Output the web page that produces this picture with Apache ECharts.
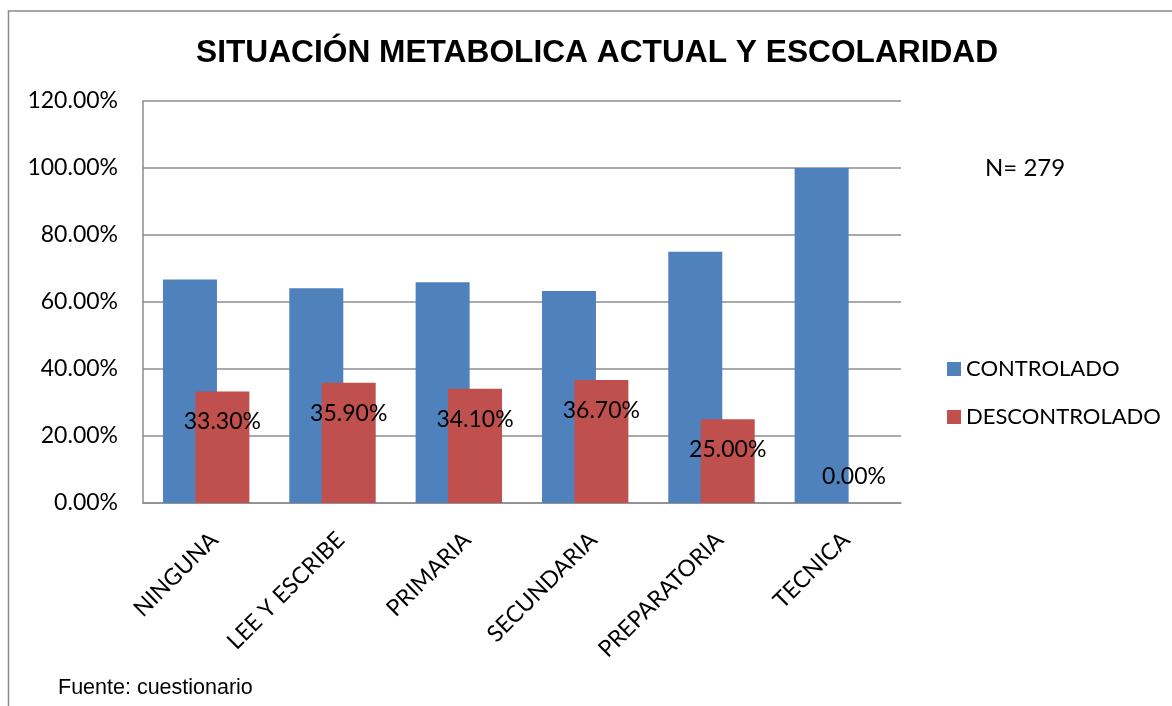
<!DOCTYPE html>
<html><head><meta charset="utf-8">
<script src="https://cdn.jsdelivr.net/npm/echarts@6/dist/echarts.min.js"></script>
<style>html,body{margin:0;padding:0;background:#fff}#c{width:1172px;height:706px}</style>
</head><body><div id="c"></div>
<script>
const categories = ['NINGUNA','LEE Y ESCRIBE','PRIMARIA','SECUNDARIA','PREPARATORIA','TECNICA'];
const controlado = [66.7, 64.1, 65.9, 63.3, 75.0, 100.0];
const descontrolado = [33.3, 35.9, 34.1, 36.7, 25.0, 0.0];
const yTicks = {min: 0, max: 120, interval: 20};
const seriesNames = ['CONTROLADO', 'DESCONTROLADO'];
const titleText = 'SITUACIÓN METABOLICA ACTUAL Y ESCOLARIDAD';
const noteText = 'N= 279';
const sourceText = 'Fuente: cuestionario';

const F = 'Lato';
const chart = echarts.init(document.getElementById('c'));
const redData = descontrolado.map(v => ({
  value: v,
  label: {offset: v === 0 ? [0, -43] : [0, 14]}
}));
chart.setOption({
  animation: false,
  title: {text: titleText, left: 191, top: 32,
    textStyle: {fontFamily: 'Liberation Sans', fontWeight: 'bold', fontSize: 31.7, color: '#000'}},
  grid: {left: 143, right: 271, top: 101, bottom: 203},
  legend: {orient: 'vertical', left: 942, top: 353, itemWidth: 14, itemHeight: 14, itemGap: 26,
    icon: 'rect', textStyle: {fontFamily: F, fontSize: 22, color: '#000'}},
  xAxis: {type: 'category', data: categories,
    axisLine: {lineStyle: {color: '#8c8c8c', width: 1.5}}, axisTick: {show: false},
    axisLabel: {rotate: 45, interval: 0, align: 'right', verticalAlign: 'top', margin: 25,
      fontFamily: F, fontSize: 23, color: '#000'}},
  yAxis: {type: 'value', min: yTicks.min, max: yTicks.max, interval: yTicks.interval,
    axisLine: {show: true, lineStyle: {color: '#8c8c8c', width: 1.5}}, axisTick: {show: false},
    splitLine: {lineStyle: {color: '#8c8c8c', width: 1.5}},
    axisLabel: {margin: 25, fontFamily: F, fontSize: 23, color: '#000',
      formatter: v => v.toFixed(2) + '%'}},
  series: [
    {name: seriesNames[0], type: 'bar', data: controlado, barWidth: 54, barGap: '-40%',
      itemStyle: {color: '#4F81BD'}},
    {name: seriesNames[1], type: 'bar', data: redData, barWidth: 54,
      itemStyle: {color: '#C0504D'},
      label: {show: true, position: 'insideTop', fontFamily: F, fontSize: 23, color: '#000',
        formatter: p => p.value.toFixed(2) + '%'}}
  ],
  graphic: [
    {type: 'rect', shape: {x: 8.5, y: 11, width: 1200, height: 800}, silent: true,
      style: {fill: null, stroke: '#8c8c8c', lineWidth: 1.5}},
    {type: 'text', left: 985, top: 156, style: {text: noteText, font: '24px Lato', fill: '#000'}},
    {type: 'text', left: 58, top: 677, style: {text: sourceText, font: '21.5px "Liberation Sans"', fill: '#000'}}
  ]
});
</script></body></html>
